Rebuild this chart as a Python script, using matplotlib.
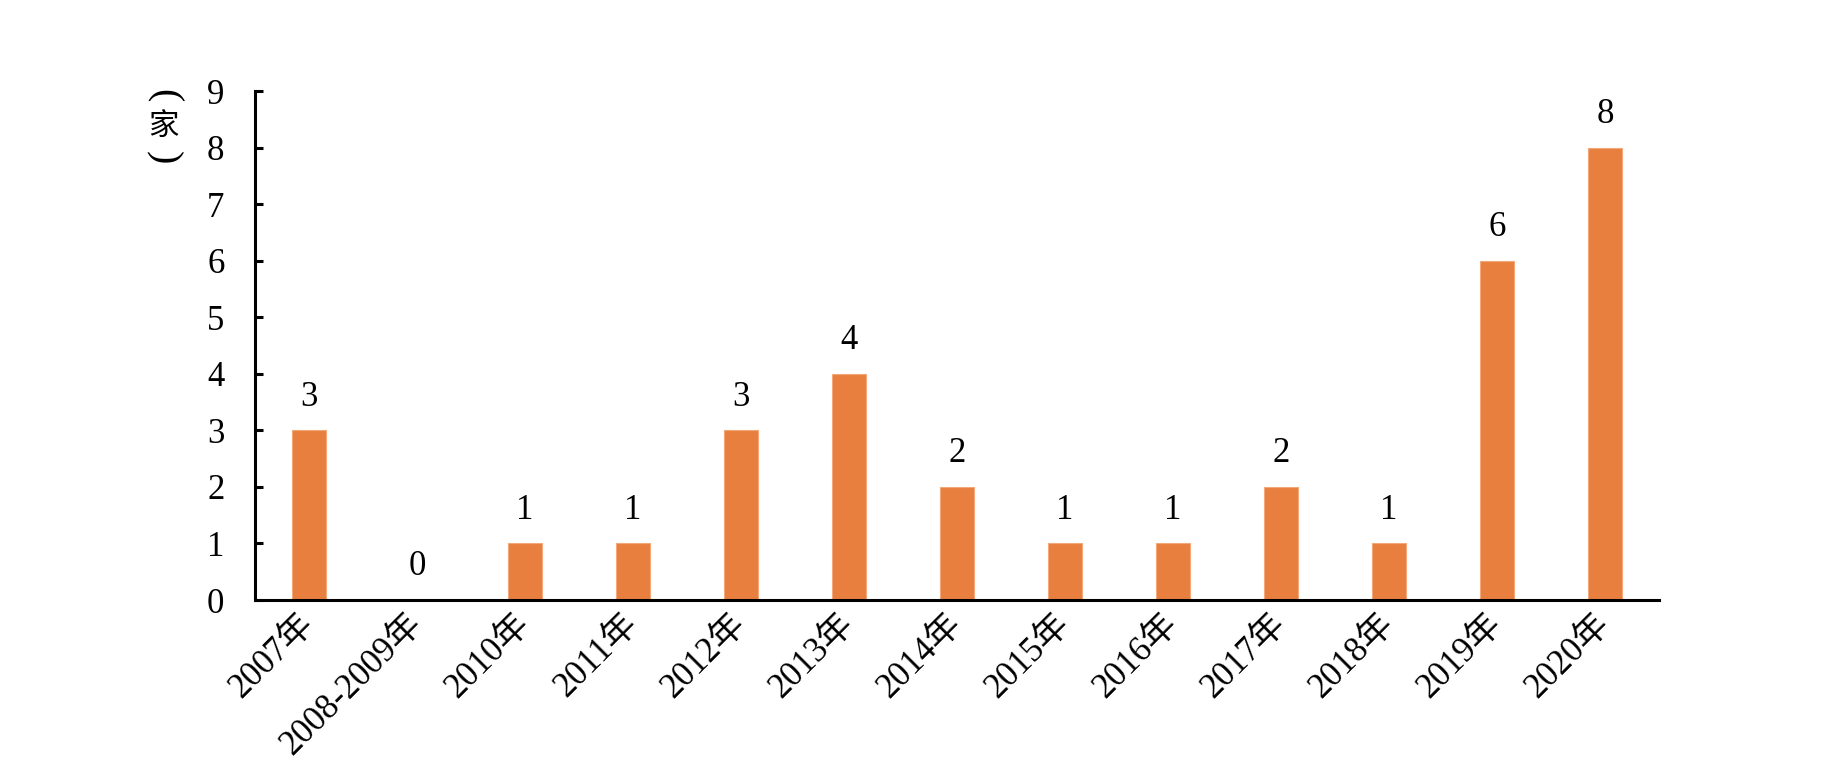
import matplotlib
matplotlib.use("Agg")
import matplotlib.pyplot as plt
import matplotlib.transforms as mtransforms
import numpy as np

plt.rcParams['font.family'] = ['Liberation Serif', 'Noto Sans CJK SC', 'DejaVu Sans']

# data
years = ['2007年', '2008-2009年', '2010年', '2011年', '2012年', '2013年', '2014年',
         '2015年', '2016年', '2017年', '2018年', '2019年', '2020年']
counts = [3, 0, 1, 1, 3, 4, 2, 1, 1, 2, 1, 6, 8]
yticks = list(range(0, 10))
unit = '家'

bar_col = '#E97F3E'

fig = plt.figure(figsize=(18.42, 7.76), dpi=100)
ax = fig.add_axes([0.1384, 0.2268, 0.7623, 0.6559])

x = np.arange(len(years))
bars = ax.bar(x, counts, width=0.31, color=bar_col, edgecolor='#F2A878', linewidth=0.8)

for xi, v in zip(x, counts):
    ax.annotate(str(v), (xi, v), xytext=(0, 12), textcoords='offset points',
                ha='center', va='bottom', fontsize=25)

ax.set_xlim(-0.5, len(years) - 0.5)
ax.set_ylim(0, 9)
ax.set_yticks(yticks)
ax.set_yticklabels([str(t) for t in yticks], fontsize=25)
ax.set_xticks(x)
ax.set_xticklabels(years, fontsize=25, rotation=45, ha='right', va='center',
                   rotation_mode='anchor')
# nudge the slanted labels a little right
shift = mtransforms.ScaledTranslation(12 / 100, 0, fig.dpi_scale_trans)
for lab in ax.get_xticklabels():
    lab.set_transform(lab.get_transform() + shift)

for s in ['top', 'right']:
    ax.spines[s].set_visible(False)
for s in ['left', 'bottom']:
    ax.spines[s].set_linewidth(2.2)
    ax.spines[s].set_color('black')

ax.tick_params(axis='y', direction='in', length=6, width=2.2, pad=22)
ax.tick_params(axis='x', length=0, pad=14)

# vertical unit label: （家）
ux = 163 / 1842
fig.text(ux, 1 - 96 / 776, '(', rotation=-90, ha='center', va='center', fontsize=29,
         family='Liberation Serif')
fig.text(ux, 1 - 127 / 776, unit, ha='center', va='center', fontsize=22,
         family=['Noto Sans CJK SC', 'DejaVu Sans'])
fig.text(ux, 1 - 158 / 776, ')', rotation=-90, ha='center', va='center', fontsize=29,
         family='Liberation Serif')

fig.savefig('out.png', dpi=100)
